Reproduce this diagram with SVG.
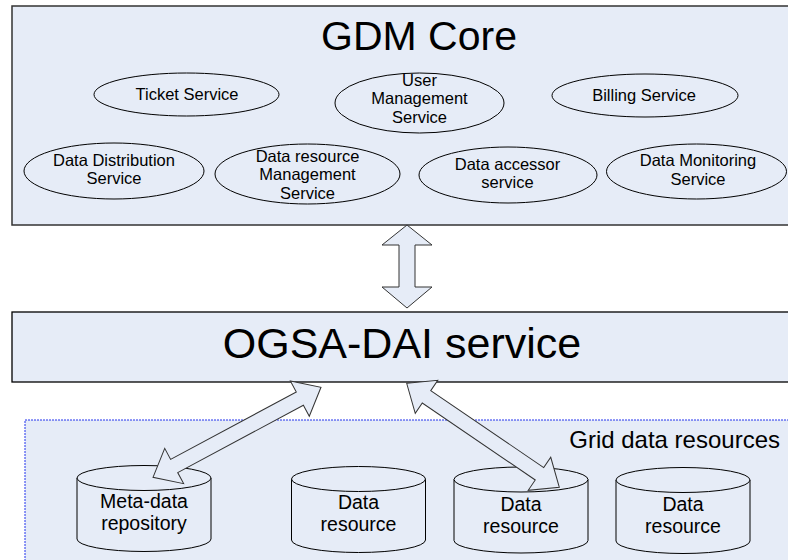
<svg xmlns="http://www.w3.org/2000/svg" width="788" height="560" viewBox="0 0 788 560">
<style>
  text { font-family: "Liberation Sans", Arial, sans-serif; fill: #000; text-anchor: middle; }
  .svc { fill: none; stroke: #000; stroke-width: 1; }
  .lbl { font-size: 16.5px; }
  .cyl { fill: #E6ECF7; stroke: #000; stroke-width: 1; }
  .clbl { font-size: 19.5px; }
  .arrow { fill: #E6ECF7; stroke: #333; stroke-width: 1; stroke-linejoin: miter; }
</style>
<rect width="788" height="560" fill="#fff"/>

<g id="gdm-core">
  <rect x="12" y="6" width="800" height="219" fill="#E6ECF7" stroke="#333" stroke-width="1.5"/>
  <text x="419" y="50" font-size="41">GDM Core</text>
</g>

<g id="ticket-service">
  <ellipse class="svc" cx="186.5" cy="94.5" rx="92.5" ry="21.5"/>
  <text class="lbl" x="187" y="100">Ticket Service</text>
</g>
<g id="user-management-service">
  <ellipse class="svc" cx="419.5" cy="103" rx="84.5" ry="30"/>
  <text class="lbl" x="419.5" y="85.5">User</text>
  <text class="lbl" x="419.5" y="104">Management</text>
  <text class="lbl" x="419.5" y="122.5">Service</text>
</g>
<g id="billing-service">
  <ellipse class="svc" cx="645" cy="95.5" rx="93" ry="21.5"/>
  <text class="lbl" x="644" y="101">Billing Service</text>
</g>
<g id="data-distribution-service">
  <ellipse class="svc" cx="114" cy="171" rx="90" ry="28"/>
  <text class="lbl" x="114" y="165.5">Data Distribution</text>
  <text class="lbl" x="114" y="184">Service</text>
</g>
<g id="data-resource-management-service">
  <ellipse class="svc" cx="307.5" cy="174" rx="92.5" ry="30"/>
  <text class="lbl" x="307.5" y="161.5">Data resource</text>
  <text class="lbl" x="307.5" y="180">Management</text>
  <text class="lbl" x="307.5" y="198.5">Service</text>
</g>
<g id="data-accessor-service">
  <ellipse class="svc" cx="508" cy="175" rx="89" ry="28"/>
  <text class="lbl" x="507.5" y="169.5">Data accessor</text>
  <text class="lbl" x="507.5" y="188">service</text>
</g>
<g id="data-monitoring-service">
  <ellipse class="svc" cx="696.5" cy="171.5" rx="90" ry="27.5"/>
  <text class="lbl" x="698" y="166">Data Monitoring</text>
  <text class="lbl" x="698" y="184.5">Service</text>
</g>

<g id="ogsa-dai-service">
  <rect x="12" y="312" width="800" height="70" fill="#E6ECF7" stroke="#000" stroke-width="1.3"/>
  <text x="402" y="358" font-size="43">OGSA-DAI service</text>
</g>

<g id="grid-data-resources">
  <rect x="25" y="420" width="800" height="160" fill="#E6ECF7" stroke="#2233EE" stroke-width="1" stroke-dasharray="2,1"/>
  <text x="780" y="448" font-size="24" style="text-anchor:end">Grid data resources</text>
</g>

<g id="meta-data-repository">
  <path class="cyl" d="M77,478 L77,539 A67,12.5 0 0 0 211,539 L211,478"/>
  <ellipse class="cyl" cx="144" cy="478" rx="67" ry="12.5"/>
  <text class="clbl" x="144" y="508">Meta-data</text>
  <text class="clbl" x="144" y="530">repository</text>
</g>
<g id="data-resource-1">
  <path class="cyl" d="M291.5,479 L291.5,540 A67,12.5 0 0 0 425.5,540 L425.5,479"/>
  <ellipse class="cyl" cx="358.5" cy="479" rx="67" ry="12.5"/>
  <text class="clbl" x="358.5" y="509">Data</text>
  <text class="clbl" x="358.5" y="531">resource</text>
</g>
<g id="data-resource-2">
  <path class="cyl" d="M454,479.5 L454,540.5 A67,12.5 0 0 0 588,540.5 L588,479.5"/>
  <ellipse class="cyl" cx="521" cy="479.5" rx="67" ry="12.5"/>
  <text class="clbl" x="521" y="511">Data</text>
  <text class="clbl" x="521" y="533">resource</text>
</g>
<g id="data-resource-3">
  <path class="cyl" d="M616,480 L616,541 A67,12.5 0 0 0 750,541 L750,480"/>
  <ellipse class="cyl" cx="683" cy="480" rx="67" ry="12.5"/>
  <text class="clbl" x="683" y="511">Data</text>
  <text class="clbl" x="683" y="533">resource</text>
</g>

<g id="connectors">
  <polygon class="arrow" points="407,225 432,245 415,245 415,287 432,287 407,308 382,287 399,287 399,245 382,245"/>
  <polygon class="arrow" transform="translate(237,432.3) rotate(-28.2)" points="-95.3,0 -71.3,-20 -71.3,-7.5 71.3,-7.5 71.3,-20 95.3,0 71.3,20 71.3,7.5 -71.3,7.5 -71.3,20"/>
  <polygon class="arrow" transform="translate(483,435.3) rotate(34.27)" points="-92.35,0 -68.35,-20 -68.35,-7.5 68.35,-7.5 68.35,-20 92.35,0 68.35,20 68.35,7.5 -68.35,7.5 -68.35,20"/>
</g>
</svg>
